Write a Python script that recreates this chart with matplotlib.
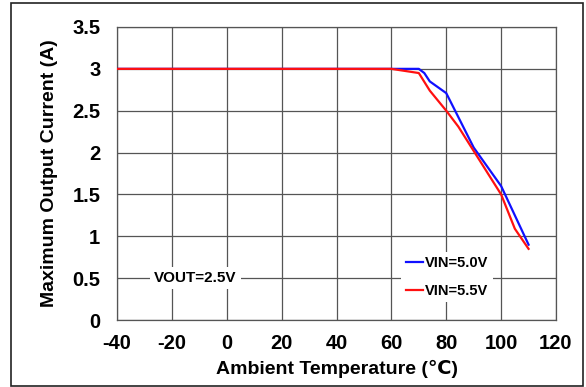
import matplotlib
matplotlib.use("Agg")
import matplotlib.pyplot as plt
from matplotlib.patches import Rectangle

temp_50 = [-40, 60, 70, 72, 74, 80, 90, 100, 110]
cur_50 = [3.0, 3.0, 3.0, 2.95, 2.85, 2.71, 2.06, 1.60, 0.90]
temp_55 = [-40, 60, 70, 74, 80, 84.4, 100, 105, 110]
cur_55 = [3.0, 3.0, 2.95, 2.74, 2.5, 2.31, 1.5, 1.09, 0.85]
xticks = [-40, -20, 0, 20, 40, 60, 80, 100, 120]
xtick_labels = ["-40", "-20", "0", "20", "40", "60", "80", "100", "120"]
yticks = [0, 0.5, 1, 1.5, 2, 2.5, 3, 3.5]
ytick_labels = ["0", "0.5", "1", "1.5", "2", "2.5", "3", "3.5"]

plt.rcParams['font.family'] = ['Liberation Sans', 'DejaVu Sans']
plt.rcParams['font.weight'] = 'bold'

fig = plt.figure(figsize=(5.86, 3.87), dpi=100)
ax = fig.add_axes([117/586, 1-320/387, (556-117)/586, (320-27)/387])

ax.plot(temp_50, cur_50, color='#1010ff', lw=1.6, label='VIN=5.0V', zorder=3)
ax.plot(temp_55, cur_55, color='#ff1010', lw=1.6, label='VIN=5.5V', zorder=3)

ax.set_xlim(-40, 120)
ax.set_ylim(0, 3.5)
ax.set_xticks(xticks)
ax.set_xticklabels(xtick_labels)
ax.set_yticks(yticks)
ax.set_yticklabels(ytick_labels)
ax.tick_params(length=0, labelsize=14.5)
ax.tick_params(axis='x', pad=10)
ax.tick_params(axis='y', pad=12)
for lab in ax.get_xticklabels() + ax.get_yticklabels():
    lab.set_fontweight('bold')
ax.grid(True, color='#555555', lw=0.9)
ax.set_axisbelow(True)
for s in ax.spines.values():
    s.set_color('#555555')
    s.set_linewidth(0.9)

ax.set_xlabel('Ambient Temperature (℃)', fontsize=14, fontweight='bold', labelpad=5)
ax.set_ylabel('Maximum Output Current (A)', fontsize=14, fontweight='bold', labelpad=10)

ax.text(-26.5, 0.5, 'VOUT=2.5V', fontsize=11, fontweight='bold', ha='left', va='center',
        bbox=dict(facecolor='white', edgecolor='none', pad=3), zorder=2)

leg = ax.legend(loc='center', bbox_to_anchor=((447-117)/439, (320-277)/293),
                frameon=True, framealpha=1, edgecolor='none',
                handlelength=1.2, handletextpad=0.1, borderpad=0.3, labelspacing=0.95,
                prop={'weight': 'bold', 'size': 10.5})
leg.get_frame().set_facecolor('white')
leg.set_zorder(2)

fig.patches.append(Rectangle((11/586, 1-386/387), (583-11)/586, (386-3)/387,
                             transform=fig.transFigure, fill=False, edgecolor='#222222', lw=1.2))

fig.savefig('out.png', dpi=100)
